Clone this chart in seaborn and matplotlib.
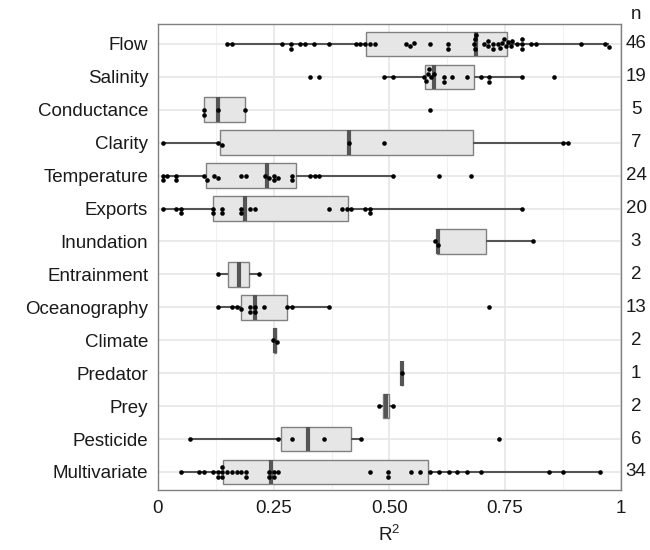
import numpy as np
import pandas as pd
import matplotlib
matplotlib.use("Agg")
import matplotlib.pyplot as plt
from matplotlib.ticker import MultipleLocator, FixedLocator
import seaborn as sns

categories = ["Flow", "Salinity", "Conductance", "Clarity", "Temperature", "Exports",
              "Inundation", "Entrainment", "Oceanography", "Climate", "Predator",
              "Prey", "Pesticide", "Multivariate"]

flow = [0.149, 0.159, 0.269, 0.288, 0.288, 0.308, 0.318, 0.338, 0.369, 0.427,
        0.437, 0.448, 0.458, 0.468, 0.536, 0.545, 0.553, 0.588, 0.627, 0.627,
        0.683, 0.685, 0.686, 0.687, 0.705, 0.714, 0.714, 0.724, 0.724, 0.734,
        0.740, 0.744, 0.748, 0.752, 0.756, 0.762, 0.766, 0.776, 0.787, 0.787,
        0.787, 0.806, 0.816, 0.915, 0.966, 0.974]
salinity = [0.328, 0.348, 0.488, 0.508, 0.575, 0.579, 0.583, 0.585, 0.590, 0.597,
            0.619, 0.619, 0.636, 0.667, 0.698, 0.716, 0.716, 0.787, 0.855]
conductance = [0.100, 0.100, 0.129, 0.189, 0.588]
clarity = [0.010, 0.130, 0.139, 0.412, 0.488, 0.875, 0.886]
temperature = [0.010, 0.010, 0.020, 0.040, 0.040, 0.100, 0.105, 0.121, 0.130,
               0.179, 0.190, 0.231, 0.239, 0.250, 0.250, 0.259, 0.289, 0.289,
               0.329, 0.339, 0.349, 0.508, 0.608, 0.677]
exports = [0.010, 0.040, 0.050, 0.050, 0.119, 0.119, 0.139, 0.139, 0.179, 0.179,
           0.198, 0.209, 0.369, 0.398, 0.408, 0.418, 0.448, 0.458, 0.458, 0.787]
inundation = [0.599, 0.606, 0.810]
entrainment = [0.130, 0.219]
oceanography = [0.130, 0.159, 0.170, 0.179, 0.199, 0.199, 0.209, 0.209, 0.229,
                0.278, 0.289, 0.369, 0.716]
climate = [0.249, 0.258]
predator = [0.527]
prey = [0.478, 0.507]
pesticide = [0.070, 0.259, 0.289, 0.358, 0.438, 0.737]
multivariate = [0.050, 0.089, 0.099, 0.119, 0.129, 0.129, 0.139, 0.139, 0.139,
                0.149, 0.159, 0.170, 0.180, 0.190, 0.190, 0.240, 0.240, 0.250,
                0.250, 0.260, 0.458, 0.498, 0.498, 0.547, 0.567, 0.588, 0.608,
                0.628, 0.647, 0.667, 0.697, 0.846, 0.876, 0.955]

series = [flow, salinity, conductance, clarity, temperature, exports, inundation,
          entrainment, oceanography, climate, predator, prey, pesticide, multivariate]

x_ticks = [0, 0.25, 0.5, 0.75, 1]
x_ticklabels = ["0", "0.25", "0.50", "0.75", "1"]

df = pd.DataFrame({
    "group": np.repeat(categories, [len(s) for s in series]),
    "r2": np.concatenate(series),
})

sns.set_theme(style="whitegrid")
plt.rcParams["font.family"] = ["Liberation Sans", "DejaVu Sans"]
plt.rcParams["mathtext.fontset"] = "custom"
plt.rcParams["mathtext.rm"] = "Liberation Sans"
plt.rcParams["mathtext.it"] = "Liberation Sans"

FS = 13.5
fig = plt.figure(figsize=(6.5, 5.5), dpi=100)
ax = fig.add_axes([0.243, 0.109, 0.712, 0.847])

sns.boxplot(data=df, x="r2", y="group", order=categories, orient="h", ax=ax,
            width=0.75, color="#e6e6e6", saturation=1, whis=1.5,
            showfliers=False, showcaps=False,
            boxprops=dict(facecolor="#e6e6e6", edgecolor="#808080", linewidth=1.0),
            medianprops=dict(color="#555555", linewidth=3),
            whiskerprops=dict(color="#555555", linewidth=1.5))
sns.swarmplot(data=df, x="r2", y="group", order=categories, orient="h", ax=ax,
              color="black", size=3.3, zorder=4)

ax.set_xlim(0, 1)
ax.set_ylim(len(categories) - 0.45, -0.6)
ax.xaxis.set_major_locator(FixedLocator(x_ticks))
ax.set_xticklabels(x_ticklabels)
ax.xaxis.set_minor_locator(MultipleLocator(0.125))
ax.grid(True, which="major", axis="both", color="#e8e8e8", linewidth=1.3)
ax.grid(True, which="minor", axis="x", color="#f0f0f0", linewidth=0.7)
ax.set_axisbelow(True)
for sp in ax.spines.values():
    sp.set_visible(True)
    sp.set_color("#808080")
    sp.set_linewidth(1.0)
ax.tick_params(axis="both", which="major", length=4, width=1, color="#333333",
               labelsize=FS, labelcolor="#1a1a1a", pad=3)
ax.tick_params(axis="x", which="minor", length=0)
ax.set_ylabel("")
ax.set_xlabel("R$^2$", fontsize=FS, color="#1a1a1a", labelpad=6)

trans = matplotlib.transforms.blended_transform_factory(ax.transAxes, ax.transData)
for i, s in enumerate(series):
    ax.text(1.033, i, str(len(s)), transform=trans, ha="center", va="center",
            fontsize=FS, color="#1a1a1a", clip_on=False)
ax.text(1.033, 1.02, "n", transform=ax.transAxes, ha="center", va="center",
        fontsize=FS, color="#1a1a1a", clip_on=False)

fig.savefig("out.png", dpi=100)
